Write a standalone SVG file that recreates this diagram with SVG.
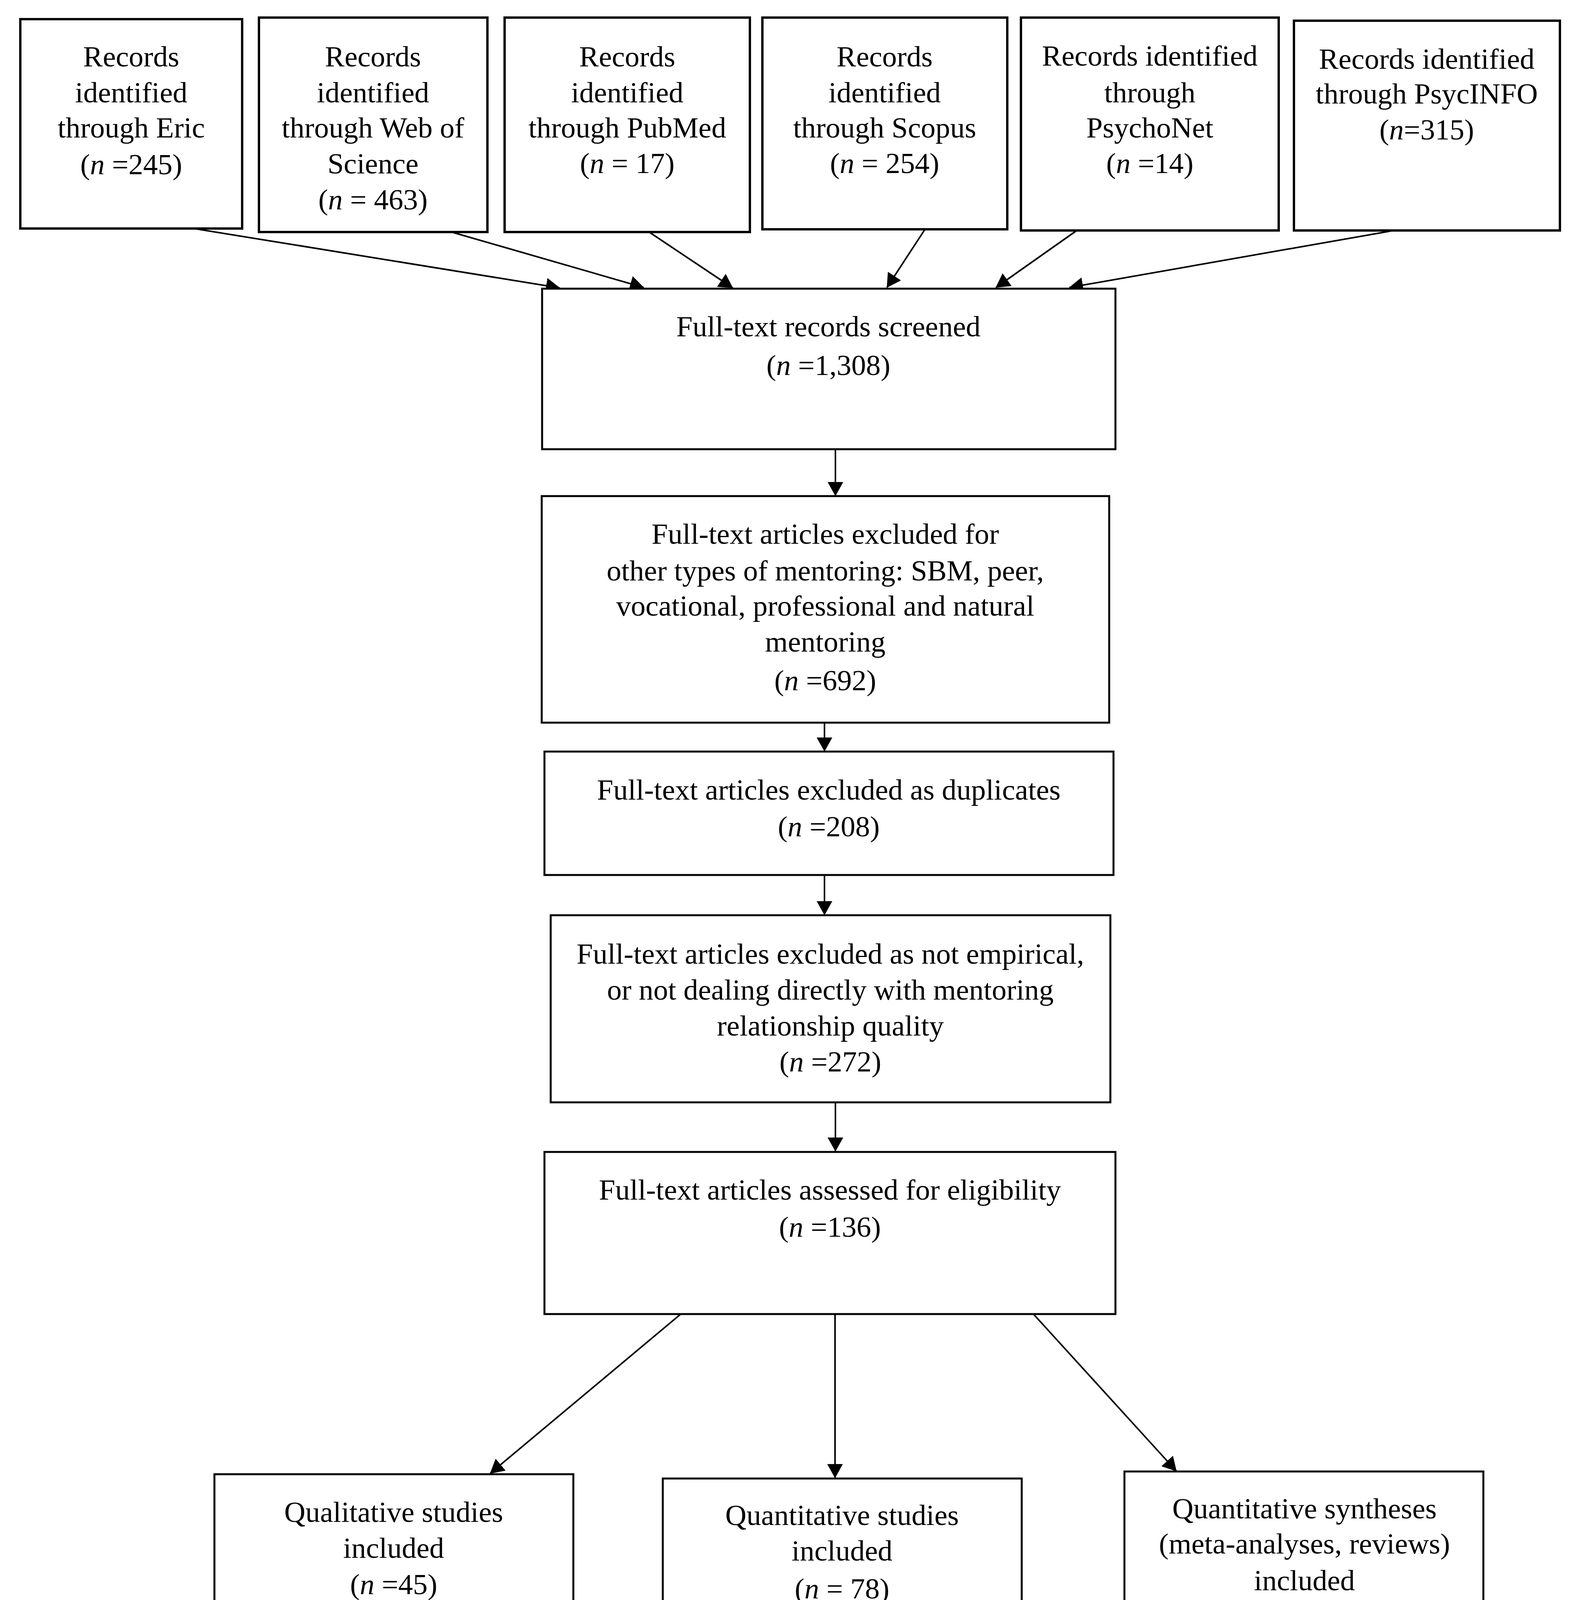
<svg xmlns="http://www.w3.org/2000/svg" width="4048" height="4389" viewBox="0 0 4048 4389">
<defs>
<style>
.box{fill:#fff;stroke:#000;stroke-width:6}
.box2{fill:#fff;stroke:#000;stroke-width:5}
.t{font-family:"Liberation Serif","Times New Roman",serif;font-size:75px;fill:#000;text-anchor:middle}
.i{font-style:italic}
.c{stroke:#000;stroke-width:4;fill:none;marker-end:url(#ah)}
</style>
<marker id="ah" markerUnits="userSpaceOnUse" markerWidth="36" markerHeight="40" refX="35" refY="20" orient="auto" viewBox="0 0 36 40">
<path d="M0,0 L36,20 L0,40 z" fill="#000"/>
</marker>
</defs>
<rect width="4048" height="4389" fill="#fff"/>
<g id="connectors">
<line class="c" x1="496" y1="585" x2="1433" y2="737"/>
<line class="c" x1="1156" y1="594" x2="1648" y2="736"/>
<line class="c" x1="1662" y1="594" x2="1876" y2="737"/>
<line class="c" x1="2367" y1="589" x2="2271" y2="736"/>
<line class="c" x1="2757" y1="590" x2="2550" y2="736"/>
<line class="c" x1="3569" y1="590" x2="2738" y2="736"/>
<line class="c" x1="2139" y1="1150" x2="2139" y2="1269"/>
<line class="c" x1="2111" y1="1850" x2="2111" y2="1923"/>
<line class="c" x1="2111" y1="2240" x2="2111" y2="2342"/>
<line class="c" x1="2139" y1="2822" x2="2139" y2="2947"/>
<line class="c" x1="1743" y1="3364" x2="1255" y2="3772"/>
<line class="c" x1="2138" y1="3364" x2="2138" y2="3783"/>
<line class="c" x1="2646" y1="3364" x2="3012" y2="3766"/>
</g>
<g id="eric">
<rect class="box" x="52" y="49" width="568" height="536"/>
<text class="t" x="336" y="170">Records</text>
<text class="t" x="336" y="262">identified</text>
<text class="t" x="336" y="352">through Eric</text>
<text class="t" x="336" y="446">(<tspan class="i">n</tspan> =245)</text>
</g>
<g id="wos">
<rect class="box" x="663" y="45" width="585" height="549"/>
<text class="t" x="955" y="170">Records</text>
<text class="t" x="955" y="262">identified</text>
<text class="t" x="955" y="352">through Web of</text>
<text class="t" x="955" y="444">Science</text>
<text class="t" x="955" y="536">(<tspan class="i">n</tspan> = 463)</text>
</g>
<g id="pubmed">
<rect class="box" x="1292" y="45" width="628" height="549"/>
<text class="t" x="1606" y="170">Records</text>
<text class="t" x="1606" y="262">identified</text>
<text class="t" x="1606" y="352">through PubMed</text>
<text class="t" x="1606" y="443">(<tspan class="i">n</tspan> = 17)</text>
</g>
<g id="scopus">
<rect class="box" x="1952" y="45" width="627" height="542"/>
<text class="t" x="2265" y="170">Records</text>
<text class="t" x="2265" y="262">identified</text>
<text class="t" x="2265" y="352">through Scopus</text>
<text class="t" x="2265" y="443">(<tspan class="i">n</tspan> = 254)</text>
</g>
<g id="psychonet">
<rect class="box" x="2614" y="45" width="660" height="545"/>
<text class="t" x="2944" y="168">Records identified</text>
<text class="t" x="2944" y="262">through</text>
<text class="t" x="2944" y="352">PsychoNet</text>
<text class="t" x="2944" y="443">(<tspan class="i">n</tspan> =14)</text>
</g>
<g id="psycinfo">
<rect class="box" x="3313" y="53" width="681" height="537"/>
<text class="t" x="3653" y="176">Records identified</text>
<text class="t" x="3653" y="265">through PsycINFO</text>
<text class="t" x="3653" y="357">(<tspan class="i">n</tspan>=315)</text>
</g>
<g id="screened">
<rect class="box2" x="1388" y="739" width="1468" height="411"/>
<text class="t" x="2121" y="861">Full-text records screened</text>
<text class="t" x="2121" y="960">(<tspan class="i">n</tspan> =1,308)</text>
</g>
<g id="excluded-types">
<rect class="box2" x="1387" y="1270" width="1453" height="580"/>
<text class="t" x="2113" y="1392">Full-text articles excluded for</text>
<text class="t" x="2113" y="1486">other types of mentoring: SBM, peer,</text>
<text class="t" x="2113" y="1576">vocational, professional and natural</text>
<text class="t" x="2113" y="1668">mentoring</text>
<text class="t" x="2113" y="1767">(<tspan class="i">n</tspan> =692)</text>
</g>
<g id="duplicates">
<rect class="box2" x="1394" y="1924" width="1457" height="316"/>
<text class="t" x="2122" y="2047">Full-text articles excluded as duplicates</text>
<text class="t" x="2122" y="2141">(<tspan class="i">n</tspan> =208)</text>
</g>
<g id="not-empirical">
<rect class="box2" x="1410" y="2343" width="1433" height="479"/>
<text class="t" x="2126" y="2467">Full-text articles excluded as not empirical,</text>
<text class="t" x="2126" y="2559">or not dealing directly with mentoring</text>
<text class="t" x="2126" y="2651">relationship quality</text>
<text class="t" x="2126" y="2743">(<tspan class="i">n</tspan> =272)</text>
</g>
<g id="eligibility">
<rect class="box2" x="1394" y="2949" width="1462" height="415"/>
<text class="t" x="2125" y="3071">Full-text articles assessed for eligibility</text>
<text class="t" x="2125" y="3166">(<tspan class="i">n</tspan> =136)</text>
</g>
<g id="qualitative">
<rect class="box2" x="549" y="3774" width="919" height="570"/>
<text class="t" x="1008" y="3896">Qualitative studies</text>
<text class="t" x="1008" y="3988">included</text>
<text class="t" x="1008" y="4081">(<tspan class="i">n</tspan> =45)</text>
</g>
<g id="quantitative">
<rect class="box2" x="1697" y="3785" width="919" height="559"/>
<text class="t" x="2156" y="3904">Quantitative studies</text>
<text class="t" x="2156" y="3995">included</text>
<text class="t" x="2156" y="4092">(<tspan class="i">n</tspan> = 78)</text>
</g>
<g id="syntheses">
<rect class="box2" x="2879" y="3767" width="919" height="554"/>
<text class="t" x="3340" y="3887">Quantitative syntheses</text>
<text class="t" x="3340" y="3977">(meta-analyses, reviews)</text>
<text class="t" x="3340" y="4071">included</text>
<text class="t" x="3340" y="4158">(<tspan class="i">n</tspan> =13)</text>
</g>
</svg>
